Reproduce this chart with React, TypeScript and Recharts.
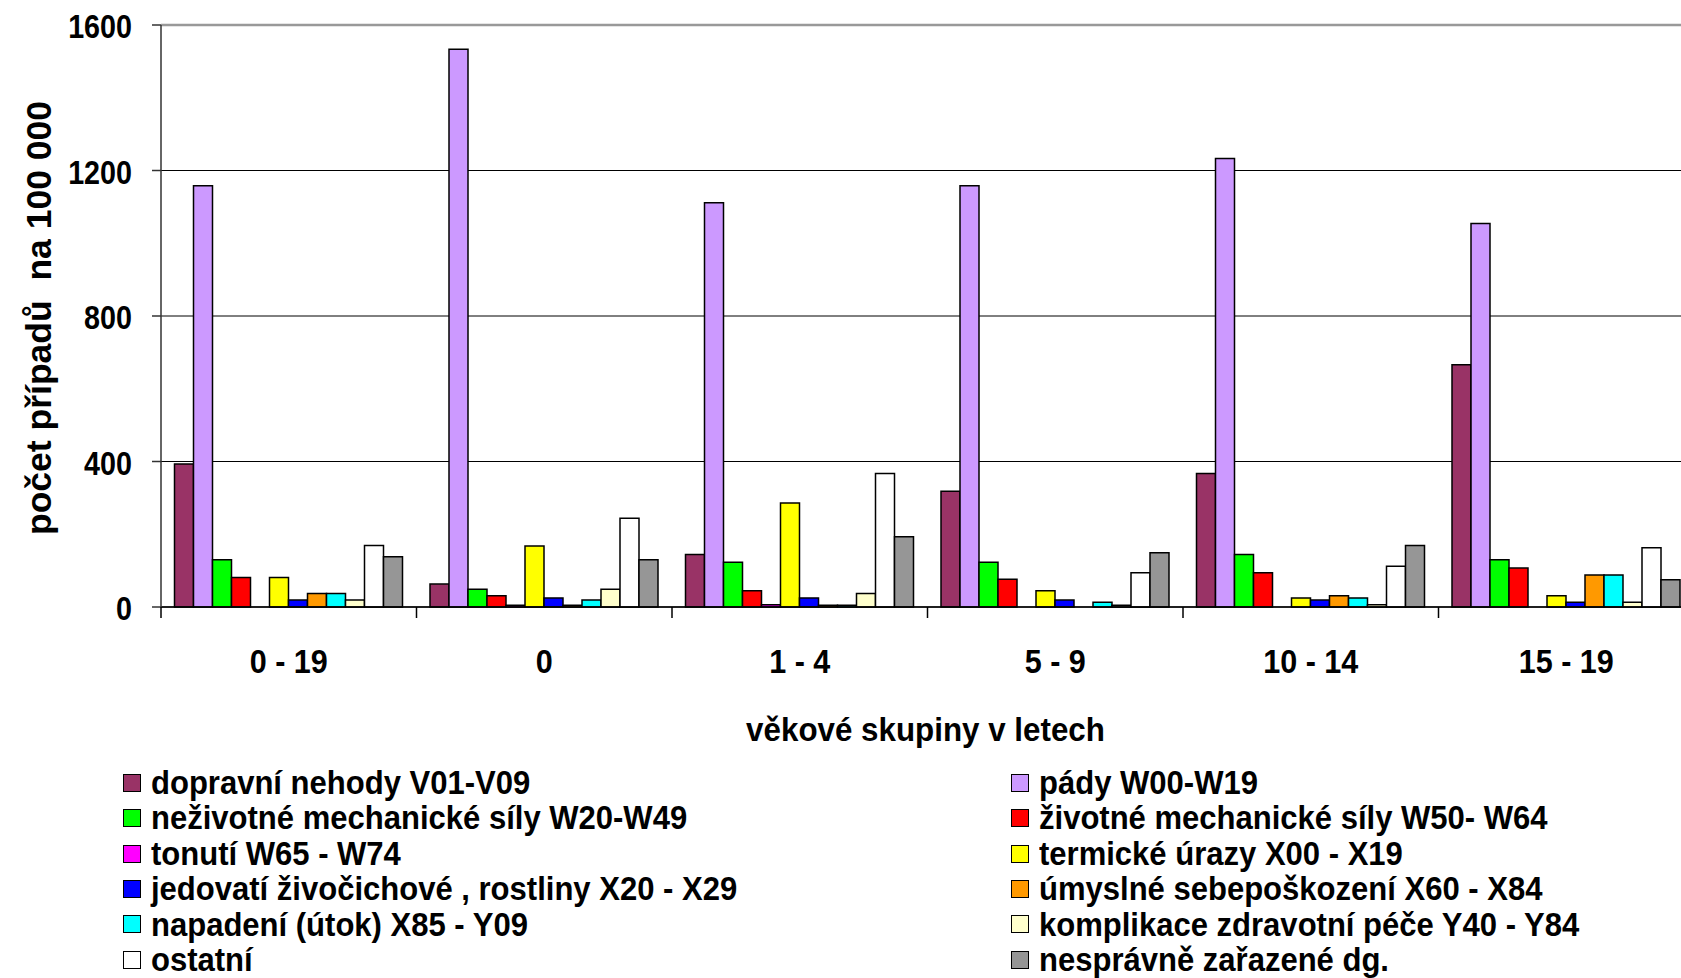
import { BarChart, Bar, XAxis, YAxis, CartesianGrid, ReferenceLine, Legend } from "recharts";

const FONT = "'Liberation Sans', Arial, sans-serif";

const categories = ["0 - 19", "0", "1 - 4", "5 - 9", "10 - 14", "15 - 19"];

const dopravni = [393, 63, 144, 318, 367, 666];
const pady = [1158, 1533, 1111, 1158, 1233, 1054];
const nezivotne = [130, 49, 123, 123, 144, 130];
const zivotne = [81, 31, 45, 76, 94, 107];
const tonuti = [0, 5, 6, 0, 0, 0];
const termicke = [81, 168, 286, 45, 25, 31];
const jedovati = [19, 25, 25, 19, 19, 13];
const umyslne = [37, 5, 5, 0, 31, 88];
const napadeni = [37, 19, 5, 13, 25, 88];
const komplikace = [19, 49, 37, 5, 6, 13];
const ostatni = [169, 244, 367, 94, 112, 163];
const nespravne = [138, 130, 193, 149, 169, 75];

const yTicks = [0, 400, 800, 1200, 1600];

const series = [
  { key: "dopravni", name: "dopravní nehody V01-V09", color: "#993366", values: dopravni },
  { key: "pady", name: "pády W00-W19", color: "#CC99FF", values: pady },
  { key: "nezivotne", name: "neživotné mechanické síly W20-W49", color: "#00FF00", values: nezivotne },
  { key: "zivotne", name: "životné mechanické síly W50- W64", color: "#FF0000", values: zivotne },
  { key: "tonuti", name: "tonutí W65 - W74", color: "#FF00FF", values: tonuti },
  { key: "termicke", name: "termické úrazy X00 - X19", color: "#FFFF00", values: termicke },
  { key: "jedovati", name: "jedovatí živočichové , rostliny X20 - X29", color: "#0000FF", values: jedovati },
  { key: "umyslne", name: "úmyslné sebepoškození X60 - X84", color: "#FF9900", values: umyslne },
  { key: "napadeni", name: "napadení (útok) X85 - Y09", color: "#00FFFF", values: napadeni },
  { key: "komplikace", name: "komplikace zdravotní péče Y40 - Y84", color: "#FFFFCC", values: komplikace },
  { key: "ostatni", name: "ostatní", color: "#FFFFFF", values: ostatni },
  { key: "nespravne", name: "nesprávně zařazené dg.", color: "#969696", values: nespravne },
];

const data = categories.map((cat, i) => {
  const row: Record<string, string | number> = { cat };
  series.forEach((s) => {
    row[s.key] = s.values[i];
  });
  return row;
});

function XTick(props: any) {
  const { x, y, payload } = props;
  const half = payload && payload.offset ? payload.offset : 127.7;
  return (
    <g>
      <line x1={x - half} x2={x - half} y1={y} y2={y + 11} stroke="#000" strokeWidth={1.5} />
      <g transform={`translate(${x},${y + 66})`}>
        <text
          transform="scale(0.94,1)"
          textAnchor="middle"
          fontFamily={FONT}
          fontWeight="bold"
          fontSize={32.5}
          fill="#000"
        >
          {payload.value}
        </text>
      </g>
    </g>
  );
}

function YTick(props: any) {
  const { x, y, payload } = props;
  return (
    <g transform={`translate(${x - 18},${y + 13})`}>
      <text
        transform="scale(0.87,1)"
        textAnchor="end"
        fontFamily={FONT}
        fontWeight="bold"
        fontSize={33}
        fill="#000"
      >
        {payload.value}
      </text>
    </g>
  );
}

function LegendBox() {
  return (
    <div
      style={{
        display: "grid",
        gridTemplateColumns: "888px 670px",
        paddingLeft: 123,
        fontFamily: FONT,
        fontWeight: "bold",
        fontSize: 33,
        lineHeight: "35.4px",
        color: "#000",
      }}
    >
      {series.map((s) => (
        <div key={s.key} style={{ display: "flex", alignItems: "center", whiteSpace: "pre" }}>
          <span
            style={{
              display: "inline-block",
              width: 16,
              height: 16,
              background: s.color,
              border: "1.5px solid #000",
              marginRight: 10,
              flexShrink: 0,
            }}
          />
          <span style={{ display: "inline-block", transform: "scaleX(0.94)", transformOrigin: "left center" }}>
            {s.name}
          </span>
        </div>
      ))}
    </div>
  );
}

export default function App() {
  return (
    <div
      style={{
        width: 1681,
        height: 978,
        position: "relative",
        overflow: "hidden",
        background: "#fff",
      }}
    >
      <style>{"body{margin:0}"}</style>
      <BarChart
        width={1694}
        height={978}
        data={data}
        margin={{ top: 25, right: 0, left: 0, bottom: 221 }}
        barCategoryGap={13.5}
        barGap={0}
      >
        <CartesianGrid vertical={false} stroke="#000" strokeWidth={1} />
        <ReferenceLine y={1600} stroke="#999" strokeWidth={2.5} />
        <XAxis
          dataKey="cat"
          height={150}
          interval={0}
          tickLine={false}
          tickSize={0}
          tickMargin={0}
          axisLine={{ stroke: "#000", strokeWidth: 1.5 }}
          tick={<XTick />}
          label={{
            content: (p: any) => (
              <g transform={`translate(${p.viewBox.x + p.viewBox.width / 2 - 2},${p.viewBox.y + 134})`}>
                <text
                  transform="scale(0.95,1)"
                  textAnchor="middle"
                  fontFamily={FONT}
                  fontWeight="bold"
                  fontSize={33}
                  fill="#000"
                >
                  věkové skupiny v letech
                </text>
              </g>
            ),
          }}
        />
        <YAxis
          width={161}
          domain={[0, 1600]}
          ticks={yTicks}
          interval={0}
          tickSize={9}
          tickLine={{ stroke: "#333", strokeWidth: 1.5 }}
          axisLine={{ stroke: "#333", strokeWidth: 1.5 }}
          tick={<YTick />}
          label={{
            content: (p: any) => {
              const cy = p.viewBox.y + p.viewBox.height / 2 + 2;
              return (
                <text
                  x={51}
                  y={cy}
                  transform={`rotate(-90 51 ${cy})`}
                  textAnchor="middle"
                  fontFamily={FONT}
                  fontWeight="bold"
                  fontSize={35.5}
                  fill="#000"
                  style={{ whiteSpace: "pre" }}
                >
                  {"počet případů  na 100 000"}
                </text>
              );
            },
          }}
        />
        <Legend
          layout="horizontal"
          verticalAlign="middle"
          align="center"
          wrapperStyle={{ top: 765, left: 0, width: 1681 }}
          content={() => <LegendBox />}
        />
        {series.map((s) => (
          <Bar
            key={s.key}
            dataKey={s.key}
            name={s.name}
            fill={s.color}
            stroke="#000"
            strokeWidth={1.5}
            isAnimationActive={false}
          />
        ))}
      </BarChart>
    </div>
  );
}
